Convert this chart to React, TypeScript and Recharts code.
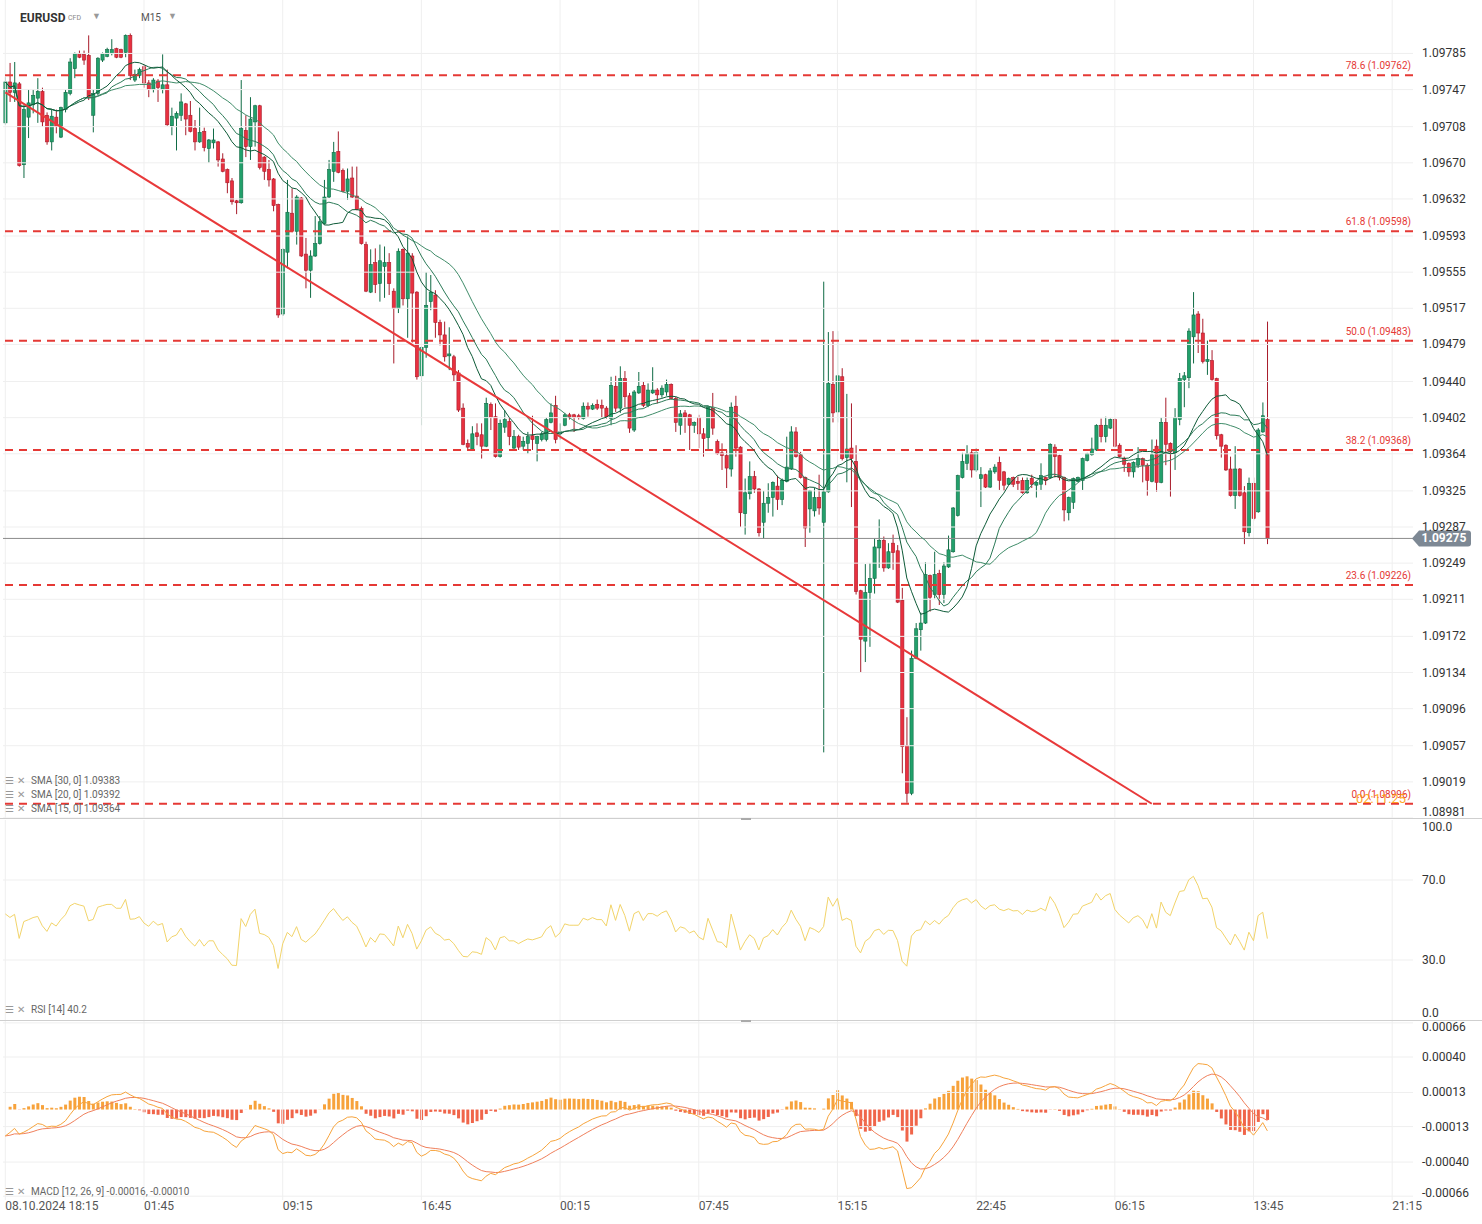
import React from "react";
import { ComposedChart, Bar, Line, XAxis, YAxis, ReferenceLine, Cell } from "recharts";

// EURUSD M15 candles (oldest first)
const OPEN = [
  1.09712, 1.09755, 1.09744, 1.09753, 1.09668, 1.09718, 1.09731, 1.09738, 1.09745, 1.0972,
  1.09692, 1.09718, 1.09697, 1.09726, 1.09743, 1.09769, 1.09785, 1.09784, 1.09783, 1.0972,
  1.09743, 1.09778, 1.09782, 1.09785, 1.0979, 1.09789, 1.09786, 1.09804, 1.09757, 1.09762,
  1.09771, 1.09754, 1.09747, 1.09756, 1.09747, 1.09752, 1.09709, 1.09717, 1.0972, 1.09732,
  1.0972, 1.09706, 1.09692, 1.09703, 1.09685, 1.09691, 1.09692, 1.09674, 1.09663, 1.09651,
  1.0963, 1.09628, 1.09704, 1.09687, 1.09713, 1.0973, 1.09676, 1.09663, 1.09653, 1.09626,
  1.09511, 1.09576, 1.09617, 1.09598, 1.09633, 1.09574, 1.09557, 1.09572, 1.09585, 1.09606,
  1.09634, 1.09661, 1.09682, 1.09662, 1.0964, 1.09654, 1.09635, 1.09622, 1.09584, 1.09534,
  1.09565, 1.09543, 1.09561, 1.09565, 1.09535, 1.09517, 1.09579, 1.09527, 1.09572, 1.09534,
  1.09446, 1.09476, 1.09524, 1.09531, 1.09502, 1.09489, 1.09467, 1.09466, 1.09449, 1.09412,
  1.09375, 1.09369, 1.09386, 1.09384, 1.09372, 1.09416, 1.09403, 1.09361, 1.09392, 1.09398,
  1.0937, 1.09382, 1.09372, 1.09375, 1.09383, 1.09375, 1.09379, 1.09379, 1.09397, 1.09415,
  1.09385, 1.09394, 1.09405, 1.09405, 1.09404, 1.09401, 1.09414, 1.09411, 1.09416, 1.09415,
  1.09412, 1.09401, 1.09435, 1.09412, 1.09443, 1.09425, 1.09389, 1.09428, 1.09436, 1.09415,
  1.09428, 1.09431, 1.09426, 1.09429, 1.09437, 1.09422, 1.09394, 1.09407, 1.09405, 1.09394,
  1.09402, 1.09385, 1.09381, 1.09412, 1.09377, 1.09365, 1.09362, 1.09348, 1.09414, 1.09371,
  1.09301, 1.09322, 1.0934, 1.09327, 1.09292, 1.09312, 1.09318, 1.0933, 1.09316, 1.09335,
  1.09348, 1.09387, 1.09363, 1.09339, 1.09306, 1.09304, 1.09318, 1.09292, 1.09324, 1.09437,
  1.09408, 1.09445, 1.0936, 1.0937, 1.09356, 1.0922, 1.09167, 1.09218, 1.09233, 1.09265,
  1.09273, 1.09244, 1.0927, 1.09262, 1.0921, 1.09057, 1.09007, 1.09149, 1.09179, 1.09186,
  1.09236, 1.09216, 1.09238, 1.09216, 1.09245, 1.09261, 1.09299, 1.09339, 1.09354, 1.09365,
  1.09347, 1.09338, 1.09342, 1.09329, 1.09345, 1.09355, 1.09345, 1.09332, 1.09339, 1.09335,
  1.09336, 1.09323, 1.09338, 1.09331, 1.09332, 1.09339, 1.09339, 1.09371, 1.09362, 1.09339,
  1.09302, 1.09313, 1.09335, 1.09336, 1.09357, 1.09363, 1.09368, 1.09394, 1.09382, 1.09391,
  1.094, 1.09373, 1.09359, 1.09354, 1.09345, 1.09352, 1.09359, 1.09352, 1.09335, 1.09372,
  1.09334, 1.09397, 1.09375, 1.09365, 1.094, 1.09442, 1.09444, 1.09487, 1.09511, 1.09491,
  1.09461, 1.09462, 1.09443, 1.09384, 1.09373, 1.09348, 1.0932, 1.09348, 1.09323, 1.09281,
  1.09333, 1.09303, 1.09387, 1.094,
];
const HIGH = [
  1.0976, 1.09775, 1.09776, 1.09755, 1.09731, 1.09747, 1.09747, 1.09759, 1.09749, 1.09723,
  1.09726, 1.09726, 1.09729, 1.09747, 1.0978, 1.09786, 1.09788, 1.09788, 1.09804, 1.09747,
  1.09781, 1.09786, 1.09791, 1.098, 1.09791, 1.0979, 1.09805, 1.09806, 1.09768, 1.0977,
  1.09773, 1.09757, 1.09759, 1.09758, 1.09784, 1.09768, 1.09728, 1.09724, 1.09743, 1.09733,
  1.09735, 1.09715, 1.09728, 1.09707, 1.09695, 1.09706, 1.09693, 1.0968, 1.09664, 1.09654,
  1.09631, 1.09757, 1.0972, 1.09739, 1.09731, 1.09731, 1.09677, 1.09673, 1.09654, 1.09627,
  1.0958, 1.09652, 1.09643, 1.09636, 1.09634, 1.09591, 1.09578, 1.09614, 1.09614, 1.09652,
  1.09673, 1.09692, 1.09703, 1.09664, 1.09664, 1.09666, 1.09666, 1.09624, 1.09587, 1.09579,
  1.0958, 1.09584, 1.09582, 1.09575, 1.09538, 1.0958, 1.0958, 1.09594, 1.09575, 1.09535,
  1.09477, 1.09555, 1.09552, 1.09536, 1.09505, 1.09503, 1.09497, 1.09468, 1.09452, 1.09417,
  1.09379, 1.09393, 1.09396, 1.09396, 1.09423, 1.09418, 1.09417, 1.094, 1.0941, 1.09402,
  1.09389, 1.09384, 1.09382, 1.09387, 1.09404, 1.09383, 1.09387, 1.09402, 1.09417, 1.09425,
  1.09396, 1.09407, 1.09407, 1.09406, 1.09406, 1.09418, 1.09418, 1.09417, 1.09421, 1.09421,
  1.09414, 1.09445, 1.09446, 1.09456, 1.09451, 1.09428, 1.09431, 1.0945, 1.0944, 1.09438,
  1.09455, 1.09433, 1.09436, 1.09442, 1.09438, 1.09424, 1.0941, 1.0941, 1.09406, 1.09398,
  1.09405, 1.09391, 1.09414, 1.09428, 1.09379, 1.09375, 1.09368, 1.09418, 1.09425, 1.09372,
  1.09338, 1.09356, 1.09346, 1.09328, 1.09325, 1.09333, 1.09335, 1.09341, 1.09338, 1.09382,
  1.09393, 1.09392, 1.09366, 1.0934, 1.09326, 1.09328, 1.09342, 1.09545, 1.09492, 1.09493,
  1.09493, 1.09454, 1.09427, 1.09417, 1.09373, 1.09221, 1.09248, 1.09249, 1.09275, 1.09295,
  1.09277, 1.0927, 1.09279, 1.09268, 1.09223, 1.09087, 1.09157, 1.09186, 1.09197, 1.0925,
  1.09237, 1.09261, 1.09242, 1.0925, 1.09278, 1.09308, 1.09342, 1.09365, 1.09373, 1.09368,
  1.0937, 1.0935, 1.09343, 1.09349, 1.09353, 1.09361, 1.09346, 1.09339, 1.0934, 1.0934,
  1.09339, 1.09339, 1.09342, 1.09335, 1.09354, 1.0934, 1.09375, 1.09374, 1.09363, 1.0934,
  1.09319, 1.09339, 1.0934, 1.0936, 1.09365, 1.09381, 1.09395, 1.09401, 1.09403, 1.09401,
  1.09401, 1.09375, 1.09361, 1.09355, 1.09356, 1.09371, 1.0936, 1.09354, 1.09379, 1.09379,
  1.09402, 1.09423, 1.09376, 1.09412, 1.09449, 1.0945, 1.09496, 1.09534, 1.09514, 1.09506,
  1.09483, 1.09473, 1.09444, 1.09385, 1.09374, 1.09361, 1.09372, 1.09349, 1.0933, 1.09339,
  1.09339, 1.09391, 1.09418, 1.09503,
];
const LOW = [
  1.0971, 1.09734, 1.09734, 1.09666, 1.09654, 1.09696, 1.09722, 1.09712, 1.09708, 1.09689,
  1.09683, 1.09701, 1.09696, 1.09723, 1.09741, 1.09759, 1.0978, 1.09773, 1.09736, 1.09702,
  1.09741, 1.09776, 1.09781, 1.09783, 1.0978, 1.0978, 1.09781, 1.09757, 1.09755, 1.09759,
  1.09749, 1.09739, 1.09744, 1.09734, 1.09743, 1.09709, 1.09699, 1.09683, 1.09714, 1.09699,
  1.09702, 1.09683, 1.09691, 1.09682, 1.0967, 1.09685, 1.09666, 1.0966, 1.09638, 1.09626,
  1.09616, 1.09627, 1.09676, 1.09673, 1.09687, 1.09663, 1.09652, 1.09645, 1.09619, 1.09507,
  1.09509, 1.09559, 1.09597, 1.09584, 1.09571, 1.09538, 1.09528, 1.09571, 1.09584, 1.09605,
  1.09633, 1.0965, 1.09659, 1.09639, 1.09631, 1.09633, 1.0962, 1.09584, 1.09534, 1.09533,
  1.09533, 1.09524, 1.09528, 1.09531, 1.09459, 1.09512, 1.0952, 1.09486, 1.09481, 1.09442,
  1.09394, 1.09465, 1.09515, 1.09486, 1.09478, 1.09461, 1.09452, 1.0944, 1.09408, 1.09373,
  1.09368, 1.09368, 1.09373, 1.09359, 1.09371, 1.09389, 1.0936, 1.0936, 1.09386, 1.09373,
  1.09368, 1.09368, 1.09368, 1.09364, 1.09368, 1.09356, 1.09377, 1.09377, 1.09396, 1.09375,
  1.09379, 1.09393, 1.094, 1.09387, 1.094, 1.094, 1.09403, 1.0941, 1.0941, 1.09402,
  1.09401, 1.09394, 1.09408, 1.09407, 1.09413, 1.09386, 1.09387, 1.09427, 1.09413, 1.09413,
  1.09427, 1.09417, 1.09423, 1.09425, 1.09421, 1.09387, 1.09384, 1.09386, 1.09368, 1.09386,
  1.0937, 1.09361, 1.09368, 1.09384, 1.09363, 1.09347, 1.09328, 1.0934, 1.09361, 1.09287,
  1.09279, 1.09316, 1.09323, 1.09277, 1.09275, 1.09302, 1.09298, 1.09305, 1.0931, 1.09334,
  1.09347, 1.0936, 1.09338, 1.09266, 1.09281, 1.09298, 1.093, 1.0905, 1.09323, 1.09397,
  1.09397, 1.09357, 1.09334, 1.09308, 1.09216, 1.09134, 1.09145, 1.09161, 1.09217, 1.09244,
  1.0924, 1.09243, 1.09242, 1.09207, 1.09028, 1.08997, 1.09005, 1.09148, 1.09157, 1.09185,
  1.09198, 1.09212, 1.09205, 1.09207, 1.09244, 1.0926, 1.09298, 1.09338, 1.09347, 1.09339,
  1.09345, 1.09308, 1.09328, 1.09328, 1.09343, 1.09326, 1.09325, 1.09331, 1.09329, 1.09326,
  1.09322, 1.09322, 1.09328, 1.09318, 1.09326, 1.09331, 1.09338, 1.09339, 1.09336, 1.09293,
  1.09294, 1.09306, 1.09334, 1.09326, 1.09356, 1.09362, 1.09367, 1.09376, 1.09376, 1.0939,
  1.09371, 1.0936, 1.09345, 1.0934, 1.09339, 1.09349, 1.09334, 1.0932, 1.09334, 1.09324,
  1.09333, 1.09352, 1.09319, 1.09347, 1.09394, 1.09413, 1.09433, 1.09459, 1.0947, 1.09459,
  1.09447, 1.09441, 1.09379, 1.0936, 1.09346, 1.09319, 1.09306, 1.09319, 1.09269, 1.09277,
  1.09294, 1.09302, 1.09386, 1.09269,
];
const CLOSE = [
  1.09755, 1.09744, 1.09754, 1.09667, 1.09726, 1.09733, 1.09741, 1.09745, 1.09713, 1.09692,
  1.09719, 1.09708, 1.09728, 1.09744, 1.09776, 1.09785, 1.09781, 1.09778, 1.09739, 1.09743,
  1.0978, 1.09785, 1.09789, 1.09789, 1.09781, 1.09781, 1.09804, 1.09762, 1.09763, 1.09768,
  1.09754, 1.09747, 1.09757, 1.09749, 1.09752, 1.0971, 1.09719, 1.09722, 1.09734, 1.09716,
  1.09703, 1.09692, 1.09702, 1.09686, 1.09694, 1.09694, 1.09673, 1.09661, 1.09649, 1.09629,
  1.09628, 1.09706, 1.09687, 1.09716, 1.0973, 1.09665, 1.09661, 1.09652, 1.09625, 1.0951,
  1.09579, 1.09618, 1.09598, 1.09634, 1.09572, 1.09557, 1.09572, 1.09585, 1.09608, 1.09634,
  1.09663, 1.09681, 1.0966, 1.0964, 1.09653, 1.09634, 1.09621, 1.09585, 1.09535, 1.09563,
  1.09542, 1.09567, 1.09565, 1.09543, 1.09517, 1.09577, 1.09527, 1.09575, 1.09533, 1.09445,
  1.09476, 1.0952, 1.09534, 1.09502, 1.09489, 1.09466, 1.09469, 1.09447, 1.0941, 1.09374,
  1.09371, 1.09385, 1.09382, 1.09372, 1.09417, 1.09402, 1.09361, 1.09396, 1.094, 1.09382,
  1.09382, 1.09371, 1.09377, 1.09382, 1.09379, 1.09382, 1.09385, 1.094, 1.09407, 1.09379,
  1.09387, 1.09405, 1.09402, 1.09402, 1.09402, 1.09414, 1.09411, 1.09415, 1.09412, 1.09412,
  1.09403, 1.09436, 1.09412, 1.09443, 1.09424, 1.09391, 1.09429, 1.09435, 1.09415, 1.09431,
  1.09431, 1.09426, 1.09433, 1.09437, 1.09422, 1.09397, 1.09406, 1.09403, 1.09394, 1.09397,
  1.09385, 1.0938, 1.09413, 1.09391, 1.09364, 1.09362, 1.09349, 1.09413, 1.0937, 1.09302,
  1.09323, 1.0934, 1.09327, 1.09281, 1.09312, 1.09318, 1.09334, 1.09316, 1.09336, 1.0935,
  1.09387, 1.09361, 1.09339, 1.09286, 1.09325, 1.09318, 1.09307, 1.09324, 1.09438, 1.09407,
  1.09446, 1.09359, 1.09369, 1.09359, 1.09219, 1.09169, 1.09218, 1.09233, 1.09266, 1.09273,
  1.09244, 1.09261, 1.0926, 1.09208, 1.09056, 1.09007, 1.09149, 1.0918, 1.09186, 1.09237,
  1.09213, 1.09237, 1.09216, 1.09246, 1.09263, 1.09307, 1.09341, 1.09356, 1.09364, 1.09347,
  1.09365, 1.09342, 1.09329, 1.09346, 1.0935, 1.09336, 1.09331, 1.09338, 1.09332, 1.09333,
  1.09323, 1.09336, 1.09332, 1.09334, 1.09341, 1.09336, 1.09374, 1.09361, 1.09339, 1.09305,
  1.09318, 1.09338, 1.09339, 1.09359, 1.09364, 1.09369, 1.09394, 1.09382, 1.09394, 1.094,
  1.09372, 1.09361, 1.09353, 1.09345, 1.09355, 1.09359, 1.09352, 1.09336, 1.09363, 1.09334,
  1.09397, 1.09374, 1.09366, 1.09402, 1.09443, 1.09446, 1.09493, 1.0951, 1.09491, 1.09461,
  1.09463, 1.09442, 1.09383, 1.09372, 1.09347, 1.0932, 1.09348, 1.0932, 1.09282, 1.09333,
  1.09296, 1.09389, 1.09404, 1.09275,
];

const PRICE_TICKS = [
  1.08981, 1.09019, 1.09057, 1.09096, 1.09134, 1.09172, 1.09211, 1.09249, 1.09287, 1.09325, 1.09364,
  1.09402, 1.0944, 1.09479, 1.09517, 1.09555, 1.09593, 1.09632, 1.0967, 1.09708, 1.09747, 1.09785,
];
const FIB_LEVELS = ["78.6", "61.8", "50.0", "38.2", "23.6", "0.0"];
const FIB_PRICES = [1.09762, 1.09598, 1.09483, 1.09368, 1.09226, 1.08996];
const LAST_PRICE = 1.09275;
// trend line anchors: [bar index, price]
const TREND = [
  [0, 1.09744],
  [248, 1.08996],
];
const TIME_TICKS = [0, 30, 60, 90, 120, 150, 180, 210, 240, 270, 300];
const TIME_LABELS = ["08.10.2024 18:15", "01:45", "09:15", "16:45", "00:15", "07:45", "15:15", "22:45", "06:15", "13:45", "21:15"];
const RSI_TICKS = [0, 30, 70, 100];
const MACD_TICKS = [-0.00066, -0.0004, -0.00013, 0.00013, 0.0004, 0.00066];

const W = 1482;
const AXIS_W = 69;
const SLOTS = 305;
const FONT = "Roboto, 'Noto Sans', sans-serif";
const GREEN = "#22a06b";
const GREEN_DARK = "#0f6b45";
const RED = "#e8303f";
const RED_DARK = "#a81b2a";
const FIB_RED = "#e53935";
const GRID = "#efefef";

// --- indicators computed from the closes ---
function sma(v: number[], n: number) {
  return v.map((_, i) => {
    const w = v.slice(Math.max(0, i - n + 1), i + 1);
    return w.reduce((a, b) => a + b, 0) / w.length;
  });
}
// EMA, seeded with the mean of the first `seedLen` values
function ema(v: number[], n: number, seedLen: number) {
  const k = 2 / (n + 1);
  const s = v.slice(0, seedLen);
  let e = s.reduce((a, b) => a + b, 0) / s.length;
  return v.map((x) => (e = x * k + e * (1 - k)));
}
// Wilder RSI, averages seeded from the first n moves
function rsi(v: number[], n: number) {
  const d = v.slice(1).map((x, i) => x - v[i]);
  let ag = d.slice(0, n).reduce((a, b) => a + Math.max(b, 0), 0) / n;
  let al = d.slice(0, n).reduce((a, b) => a + Math.max(-b, 0), 0) / n;
  return v.map((_, i) => {
    if (i > 0) {
      ag = (ag * (n - 1) + Math.max(d[i - 1], 0)) / n;
      al = (al * (n - 1) + Math.max(-d[i - 1], 0)) / n;
    }
    return al === 0 ? 100 : 100 - 100 / (1 + ag / al);
  });
}

const sma30 = sma(CLOSE, 30);
const sma20 = sma(CLOSE, 20);
const sma15 = sma(CLOSE, 15);
const rsi14 = rsi(CLOSE, 14);
const e12 = ema(CLOSE, 12, 12);
const e26 = ema(CLOSE, 26, 26);
const macd = e12.map((v, i) => v - e26[i]);
const signal = ema(macd, 9, 1);

const rows = Array.from({ length: SLOTS }, (_, i) => {
  const r: any = { i };
  if (i < CLOSE.length) {
    r.open = OPEN[i];
    r.high = HIGH[i];
    r.low = LOW[i];
    r.close = CLOSE[i];
    r.range = [LOW[i], HIGH[i]];
    r.sma30 = sma30[i];
    r.sma20 = sma20[i];
    r.sma15 = sma15[i];
    r.rsi = rsi14[i];
    r.macd = macd[i];
    r.signal = signal[i];
    r.hist = macd[i] - signal[i];
  }
  const t = TREND.find((p) => p[0] === i);
  if (t) r.trend = t[1];
  return r;
});

const Candle = (props: any) => {
  const { x, y, width, height, payload } = props;
  if (!payload || payload.open == null) return null;
  const top = Math.min(y, y + height);
  const bot = Math.max(y, y + height);
  const { open, close, high, low } = payload;
  const span = high - low || 1e-9;
  const py = (p: number) => top + ((high - p) / span) * (bot - top);
  const cx = x + width / 2;
  const up = close >= open;
  const yo = py(open);
  const yc = py(close);
  const stroke = up ? GREEN_DARK : RED_DARK;
  return (
    <g>
      <line x1={cx} x2={cx} y1={top} y2={bot} stroke={stroke} strokeWidth={1} />
      <rect
        x={cx - 1.6}
        y={Math.min(yo, yc)}
        width={3.2}
        height={Math.max(1, Math.abs(yo - yc))}
        fill={up ? GREEN : RED}
        stroke={stroke}
        strokeWidth={0.6}
      />
    </g>
  );
};

const PriceTick = ({ x, y, payload }: any) => (
  <text x={x + 1} y={Math.min(y, 812)} dy={4} fontSize={12} fill="#333" fontFamily={FONT}>
    {payload.value.toFixed(5)}
  </text>
);
const RsiTick = ({ x, y, payload }: any) => (
  <text x={x + 1} y={Math.max(7, Math.min(y, 193))} dy={4} fontSize={12} fill="#333" fontFamily={FONT}>
    {payload.value.toFixed(1)}
  </text>
);
const MacdTick = ({ x, y, payload }: any) => (
  <text x={x + 1} y={Math.max(7, Math.min(y, 173))} dy={4} fontSize={12} fill="#333" fontFamily={FONT}>
    {payload.value.toFixed(5)}
  </text>
);
const TimeTick = ({ x, y, payload }: any) => {
  const k = TIME_TICKS.indexOf(payload.value);
  return (
    <text x={x} y={y - 2} dominantBaseline="central" fontSize={12} fill="#555" fontFamily={FONT}>
      {TIME_LABELS[k]}
    </text>
  );
};

const FibLabel = ({ viewBox, text }: any) => (
  <text x={viewBox.x + viewBox.width - 2} y={viewBox.y - 6} textAnchor="end" fontSize={10} fill={FIB_RED} fontFamily={FONT}>
    {text}
  </text>
);
const LastLabel = ({ viewBox }: any) => {
  const x0 = viewBox.x + viewBox.width;
  const y0 = viewBox.y;
  return (
    <g>
      <path
        d={`M${x0 - 1},${y0} L${x0 + 6},${y0 - 8} L${x0 + 55},${y0 - 8} Q${x0 + 58},${y0 - 8} ${x0 + 58},${y0 - 5} L${x0 + 58},${y0 + 5} Q${x0 + 58},${y0 + 8} ${x0 + 55},${y0 + 8} L${x0 + 6},${y0 + 8} Z`}
        fill="#7d8894"
      />
      <text x={x0 + 31} y={y0} dy={4} textAnchor="middle" fontSize={12} fontWeight={700} fill="#fff" fontFamily={FONT}>
        {LAST_PRICE.toFixed(5)}
      </text>
    </g>
  );
};

const vGrid = TIME_TICKS.map((k) => <ReferenceLine key={"v" + k} x={k} stroke={GRID} strokeWidth={1} />);

const legendRow = (top: number, text: string) => (
  <div
    key={text}
    style={{ position: "absolute", left: 5, top: top - 6, height: 12, display: "flex", alignItems: "center", fontSize: 10, color: "#666", fontFamily: FONT, whiteSpace: "nowrap" }}
  >
    <span style={{ color: "#999", fontSize: 10, width: 12 }}>☰</span>
    <span style={{ color: "#999", fontSize: 10, width: 14 }}>✕</span>
    <span>{text}</span>
  </div>
);

export default function App() {
  const margin = { top: 0, right: 0, bottom: 0, left: 3 };
  return (
    <div style={{ position: "relative", width: W, height: 1224, background: "#fff", overflow: "hidden", fontFamily: FONT }}>
      <style>{"body{margin:0}"}</style>

      {/* price pane */}
      <div style={{ position: "absolute", left: 0, top: 0 }}>
        <ComposedChart width={W} height={818} data={rows} margin={margin}>
          <XAxis dataKey="i" type="category" scale="band" hide />
          <YAxis
            orientation="right"
            width={AXIS_W}
            domain={[1.08981, 1.098412]}
            allowDataOverflow
            ticks={PRICE_TICKS}
            tick={<PriceTick />}
            tickLine={false}
            axisLine={false}
            interval={0}
          />
          {PRICE_TICKS.map((p) => (
            <ReferenceLine key={"h" + p} y={p} stroke={GRID} strokeWidth={1} />
          ))}
          {vGrid}
          <ReferenceLine y={LAST_PRICE} stroke="#8c8c8c" strokeWidth={1} label={<LastLabel />} />
          {FIB_PRICES.map((p, k) => (
            <ReferenceLine
              key={"f" + k}
              y={p}
              stroke={FIB_RED}
              strokeWidth={2}
              strokeDasharray="8 6"
              label={<FibLabel text={`${FIB_LEVELS[k]} (${p.toFixed(5)})`} />}
            />
          ))}
          <Line dataKey="sma30" stroke="#3f8c69" strokeWidth={1} dot={false} isAnimationActive={false} />
          <Line dataKey="sma20" stroke="#2b7a57" strokeWidth={1} dot={false} isAnimationActive={false} />
          <Line dataKey="sma15" stroke="#0d5a37" strokeWidth={1} dot={false} isAnimationActive={false} />
          <Bar dataKey="range" shape={(p: any) => <Candle {...p} />} isAnimationActive={false} />
          <Line dataKey="trend" stroke="#e8393a" strokeWidth={2} dot={false} connectNulls isAnimationActive={false} />
        </ComposedChart>
      </div>

      {/* RSI pane */}
      <div style={{ position: "absolute", left: 0, top: 820 }}>
        <ComposedChart width={W} height={200} data={rows} margin={margin}>
          <XAxis dataKey="i" type="category" scale="band" hide />
          <YAxis
            orientation="right"
            width={AXIS_W}
            domain={[0, 100]}
            ticks={RSI_TICKS}
            tick={<RsiTick />}
            tickLine={false}
            axisLine={false}
            interval={0}
          />
          {[30, 70].map((v) => (
            <ReferenceLine key={"r" + v} y={v} stroke={GRID} />
          ))}
          {vGrid}
          <Line dataKey="rsi" stroke="#f2d46a" strokeWidth={1} dot={false} isAnimationActive={false} />
        </ComposedChart>
      </div>

      {/* MACD pane */}
      <div style={{ position: "absolute", left: 0, top: 1020 }}>
        <ComposedChart width={W} height={204} data={rows} margin={margin}>
          <XAxis
            dataKey="i"
            type="category"
            scale="band"
            ticks={TIME_TICKS}
            tick={<TimeTick />}
            interval={0}
            tickLine={false}
            axisLine={false}
            height={24}
          />
          <YAxis
            orientation="right"
            width={AXIS_W}
            domain={[-0.000689, 0.000682]}
            allowDataOverflow
            ticks={MACD_TICKS}
            tick={<MacdTick />}
            tickLine={false}
            axisLine={false}
            interval={0}
          />
          {MACD_TICKS.map((v) => (
            <ReferenceLine key={"m" + v} y={v} stroke={GRID} />
          ))}
          {vGrid}
          <Bar dataKey="hist" barSize={3} isAnimationActive={false}>
            {rows.map((r, k) => (
              <Cell key={k} fill={r.hist >= 0 ? "#f7a23b" : "#f0654a"} />
            ))}
          </Bar>
          <Line dataKey="signal" stroke="#f0805c" strokeWidth={1} dot={false} isAnimationActive={false} />
          <Line dataKey="macd" stroke="#f7a43c" strokeWidth={1} dot={false} isAnimationActive={false} />
        </ComposedChart>
      </div>

      {/* pane separators */}
      <div style={{ position: "absolute", left: 0, top: 818, width: W, height: 1, background: "#cfcfcf" }} />
      <div style={{ position: "absolute", left: 741, top: 818, width: 10, height: 2, background: "#aaa" }} />
      <div style={{ position: "absolute", left: 0, top: 1020, width: W, height: 1, background: "#cfcfcf" }} />
      <div style={{ position: "absolute", left: 741, top: 1020, width: 10, height: 2, background: "#aaa" }} />

      {/* header */}
      <div style={{ position: "absolute", left: 20, top: 11, fontSize: 12, fontWeight: 700, color: "#333" }}>EURUSD</div>
      <div style={{ position: "absolute", left: 68, top: 14, fontSize: 7, color: "#888" }}>CFD</div>
      <div style={{ position: "absolute", left: 92, top: 11, fontSize: 9, color: "#999" }}>▼</div>
      <div style={{ position: "absolute", left: 141, top: 12, fontSize: 10, color: "#555" }}>M15</div>
      <div style={{ position: "absolute", left: 168, top: 11, fontSize: 9, color: "#999" }}>▼</div>

      {/* countdown */}
      <div style={{ position: "absolute", left: 1356, top: 791, fontSize: 13, color: "#ff9800", opacity: 0.85 }}>02:11:25</div>

      {legendRow(780, "SMA [30, 0] 1.09383")}
      {legendRow(794, "SMA [20, 0] 1.09392")}
      {legendRow(808, "SMA [15, 0] 1.09364")}
      {legendRow(1009, "RSI [14] 40.2")}
      {legendRow(1191, "MACD [12, 26, 9] -0.00016, -0.00010")}
    </div>
  );
}
